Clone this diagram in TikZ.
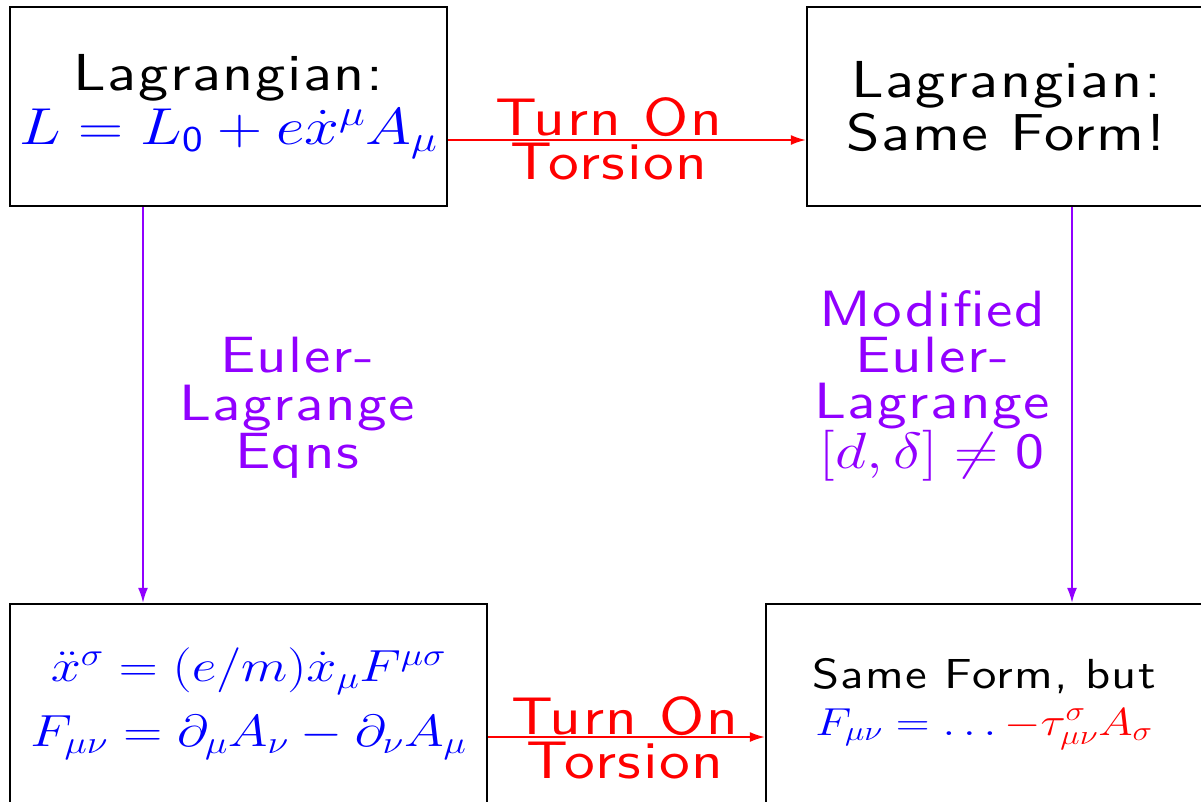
\RequirePackage{fix-cm}
\documentclass[tikz,border=0pt]{standalone}
\usepackage{graphicx}
\usepackage{fontspec}
\newfontfamily\labsf{lmsans10-regular}[Extension=.otf,FakeStretch=1.16,LetterSpace=3]
\usetikzlibrary{arrows.meta}
\definecolor{vio}{RGB}{145,0,255}
\newcommand\fsz[2]{\fontsize{#1}{#2}\selectfont}
\newcommand\zero{\mathsf{0}}
\newcommand\hs[1]{\scalebox{1.2}[1]{#1}}
\begin{document}
\begin{tikzpicture}[x=1pt,y=-1pt,
  box/.style={draw,line width=2.4pt,inner sep=0pt,align=center},
  lab/.style={inner sep=0pt,align=center},
  conn/.style={line width=1.6pt,-{Latex[length=15pt,width=10pt]}}]
\useasboundingbox (0,0) rectangle (1201,801);
\clip (0,0) rectangle (1201,801);
\node[box,minimum width=437pt,minimum height=199pt,font=\labsf\fsz{52}{52}] (TL) at (228.5,106.5)
  {Lagrangian:\\[2pt] \textcolor{blue}{\hs{$L = L_{\zero} + e\dot x^{\mu}A_{\mu}$}}};
\node[box,minimum width=398pt,minimum height=199pt,font=\labsf\fsz{52}{53}] (TR) at (1006,106.5)
  {Lagrangian:\\ Same Form!};
\node[box,minimum width=477pt,minimum height=200pt,font=\labsf\fsz{45}{45}] (BL) at (248.5,704)
  {\textcolor{blue}{\hs{$\ddot x^{\sigma} = (e/m)\dot x_{\mu}F^{\mu\sigma}$}}\\[20pt]
   \textcolor{blue}{\hs{$F_{\mu\nu} = \partial_{\mu}A_{\nu} - \partial_{\nu}A_{\mu}$}}};
\node[box,minimum width=436pt,minimum height=200pt,font=\labsf\fsz{42}{44}] (BR) at (984,704)
  {Same Form, but\\[3pt] {\fsz{39}{39}\hs{\textcolor{blue}{$F_{\mu\nu} = \ldots{}$}\textcolor{red}{$-\tau^{\sigma}_{\mu\nu}A_{\sigma}$}}}};
\node[lab,text=red,font=\labsf\fsz{53}{44}] (l1) at (609,139) {Turn On\\Torsion};
\node[lab,text=red,font=\labsf\fsz{53}{44}] (l2) at (625,738) {Turn On\\Torsion};
\node[lab,text=vio,font=\labsf\fsz{51}{48}] (l3) at (297,408) {Euler-\\Lagrange\\Eqns};
\node[lab,text=vio,font=\labsf\fsz{51}{46}] (l4) at (932,386) {Modified\\Euler-\\Lagrange\\\hs{$[d,\delta]\neq\zero$}};
\draw[conn,red] ([yshift=-33.5pt]TL.east) -- ([yshift=-33.5pt]TL.east -| TR.west);
\draw[conn,red] ([yshift=-33pt]BL.east) -- ([yshift=-33pt]BL.east -| BR.west);
\draw[conn,vio] ([xshift=-85.5pt]TL.south) -- ([xshift=-85.5pt]TL.south |- BL.north);
\draw[conn,vio] ([xshift=66pt]TR.south) -- ([xshift=66pt]TR.south |- BR.north);
\end{tikzpicture}
\end{document}
